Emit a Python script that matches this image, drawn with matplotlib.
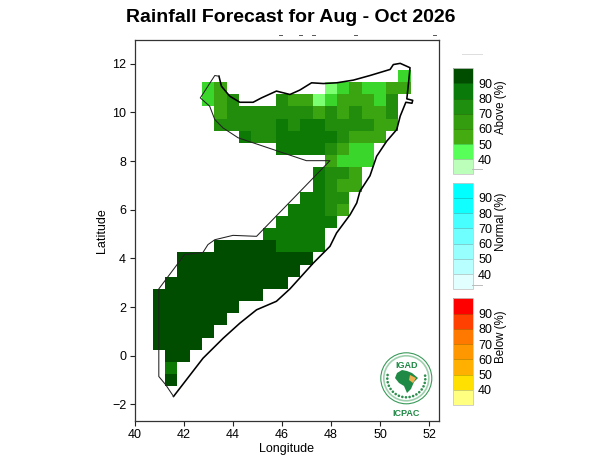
import numpy as np
import matplotlib
matplotlib.use("Agg")
import matplotlib.pyplot as plt
from matplotlib.colors import ListedColormap, BoundaryNorm
from matplotlib.cm import ScalarMappable
from matplotlib.patches import Circle, Polygon
from matplotlib.lines import Line2D

plt.rcParams['font.family'] = ['Liberation Sans', 'DejaVu Sans']

TITLE = "Rainfall Forecast for Aug - Oct 2026"
GRID_LON0 = 40.75
GRID_STEP = 0.5
# row latitude (centre): list of (first column, last column, probability class)
ROWS = {
    11.5: [(20, 20, 50)],
    11.0: [(4, 4, 50), (5, 5, 60), (14, 14, 45), (15, 15, 50), (16, 16, 60), (17, 18, 50), (19, 20, 60)],
    10.5: [(4, 4, 50), (5, 5, 60), (6, 6, 70), (10, 10, 70), (11, 12, 60), (13, 13, 45), (14, 14, 50),
           (15, 17, 60), (18, 18, 50), (19, 19, 70)],
    10.0: [(5, 5, 60), (6, 12, 70), (13, 13, 60), (14, 14, 70), (15, 15, 60), (16, 16, 70), (17, 18, 60), (19, 19, 70)],
    9.5: [(5, 9, 70), (10, 10, 80), (11, 11, 70), (12, 13, 80), (14, 17, 70), (18, 19, 60)],
    9.0: [(7, 7, 80), (8, 9, 70), (10, 14, 80), (15, 15, 70), (16, 18, 60)],
    8.5: [(10, 13, 80), (14, 14, 70), (15, 15, 60), (16, 17, 50)],
    8.0: [(14, 14, 60), (15, 17, 50)],
    7.5: [(13, 13, 80), (14, 15, 70), (16, 16, 60)],
    7.0: [(13, 13, 80), (14, 14, 70), (15, 16, 60)],
    6.5: [(12, 13, 80), (14, 15, 70)],
    6.0: [(11, 13, 80), (14, 14, 70), (15, 15, 60)],
    5.5: [(10, 14, 80)],
    5.0: [(9, 13, 80)],
    4.5: [(5, 9, 90), (10, 13, 80)],
    4.0: [(2, 12, 90)],
    3.5: [(2, 11, 90)],
    3.0: [(1, 10, 90)],
    2.5: [(0, 8, 90)],
    2.0: [(0, 6, 90)],
    1.5: [(0, 5, 90)],
    1.0: [(0, 4, 90)],
    0.5: [(0, 3, 90)],
    0.0: [(1, 2, 90)],
    -0.5: [(1, 1, 80)],
    -1.0: [(1, 1, 90)],
}
MAP_CLASSES = [45, 50, 60, 70, 80, 90]
MAP_COLORS = ['#7dff72', '#3ad62c', '#3aa510', '#228c0c', '#0e7a06', '#004d00']

COAST_LON = [43.44, 43.54, 43.88, 44.29, 44.83, 45.17, 45.78, 46.33, 46.73, 47.21, 47.69, 48.23, 48.91, 49.59,
             50.41, 50.54, 50.82, 51.22, 51.16, 51.09, 51.33, 51.30, 51.05, 50.82, 50.68, 50.27, 49.86, 49.59, 49.18,
             49.05, 48.78, 48.23, 47.96, 47.28, 46.33, 45.78, 44.97, 44.29, 43.61, 42.79, 42.11, 41.59]
COAST_LAT = [11.49, 11.08, 10.67, 10.42, 10.42, 10.60, 10.88, 10.74, 10.92, 11.22, 11.19, 11.22, 11.33, 11.52,
             11.77, 11.97, 12.02, 11.84, 11.22, 10.56, 10.50, 10.38, 10.42, 9.85, 9.30, 8.82, 8.20, 7.40, 6.76,
             6.28, 5.80, 5.05, 4.50, 3.81, 2.75, 2.24, 1.89, 1.34, 0.72, -0.10, -0.99, -1.67]
LAND_LON = [41.59, 41.27, 40.99, 40.99, 42.04, 42.79, 42.99, 43.27, 44.01, 44.97, 47.96, 47.00, 44.22, 43.60,
            43.27, 43.06, 42.68, 43.27, 43.44]
LAND_LAT = [-1.67, -1.19, -0.85, 2.75, 4.16, 4.25, 4.57, 4.77, 4.95, 4.91, 8.02, 8.02, 8.96, 9.37,
            9.71, 10.26, 10.60, 11.52, 11.49]

LON_TICKS = [40, 42, 44, 46, 48, 50, 52]
LAT_TICKS = [-2, 0, 2, 4, 6, 8, 10, 12]
CB_TICKS = [40, 50, 60, 70, 80, 90]
CB_BOUNDS = [30, 40, 50, 60, 70, 80, 90, 100]
ABOVE_COLORS = ['#bbffbb', '#58ff58', '#44ab10', '#339d0f', '#1f8f0f', '#0a7a0a', '#004d00']
NORMAL_COLORS = ['#e2ffff', '#b8ffff', '#98ffff', '#70ffff', '#48ffff', '#10ffff', '#00ffff']
BELOW_COLORS = ['#ffff80', '#ffe000', '#ffb000', '#ff9800', '#ff7800', '#ff4000', '#ff0000']
CB_SPECS = [("Above (%)", ABOVE_COLORS, 68.3, 174.3), ("Normal (%)", NORMAL_COLORS, 182.7, 289.3),
            ("Below (%)", BELOW_COLORS, 298.3, 405.0)]

W, H = 600, 468
fig = plt.figure(figsize=(W / 100, H / 100), dpi=100)

def px_axes(l, t, r, b, **kw):
    return fig.add_axes([l / W, (H - b) / H, (r - l) / W, (b - t) / H], **kw)

ax = px_axes(134.5, 39.5, 439, 421)
ax.set_xlim(40, 52.4)
ax.set_ylim(-2.68, 13.0)

lat_values = sorted(ROWS)
lat_edges = np.append(np.array(lat_values) - GRID_STEP / 2, lat_values[-1] + GRID_STEP / 2)
lon_edges = GRID_LON0 + GRID_STEP * np.arange(22)
Z = np.full((len(lat_values), 21), np.nan)
for i, lat in enumerate(lat_values):
    for first, last, cls in ROWS[lat]:
        Z[i, first:last + 1] = cls
map_bounds = [40, 47, 55, 65, 75, 85, 100]
ax.pcolormesh(lon_edges, lat_edges, np.ma.masked_invalid(Z),
              cmap=ListedColormap(MAP_COLORS), norm=BoundaryNorm(map_bounds, len(MAP_COLORS)))

ax.plot(COAST_LON, COAST_LAT, color='black', lw=1.15, solid_joinstyle='round')
ax.plot(LAND_LON, LAND_LAT, color='#222222', lw=0.75)
ax.set_xticks(LON_TICKS)
ax.set_yticks(LAT_TICKS)
ax.tick_params(labelsize=9, length=3.5, width=0.8, color='#222222', pad=2.5)
ax.set_xlabel("Longitude", fontsize=9, labelpad=1)
ax.set_ylabel("Latitude", fontsize=9, labelpad=3)
for s in ax.spines.values():
    s.set_color('#333333')
    s.set_linewidth(0.9)

fig.text(291 / W, 1 - 17.5 / H, TITLE, ha='center', va='center', fontsize=14, fontweight='bold')

for label, colors, top, bottom in CB_SPECS:
    cax = px_axes(452.5, top, 472.5, bottom)
    sm = ScalarMappable(norm=BoundaryNorm(CB_BOUNDS, len(colors)), cmap=ListedColormap(colors))
    cb = fig.colorbar(sm, cax=cax, ticks=CB_TICKS, spacing='uniform', drawedges=True)
    cb.dividers.set_color((0, 0, 0, 0.22))
    cb.dividers.set_linewidth(0.6)
    cb.outline.set_edgecolor('#c8c8c8')
    cb.outline.set_linewidth(0.6)
    cb.ax.tick_params(labelsize=9, length=0, pad=4)
    cb.ax.minorticks_off()
    cb.set_label(label, fontsize=8.3)
    cb.ax.yaxis.set_label_coords((495 - 452.5) / 20, 0.635)

# stray marks
fig.add_artist(Line2D([462 / W, 482 / W], [1 - 53.5 / H] * 2, color='#dddddd', lw=0.7))
fig.add_artist(Line2D([472 / W, 482 / W], [1 - 168.5 / H] * 2, color='#bbbbbb', lw=0.7))
fig.add_artist(Line2D([472 / W, 482 / W], [1 - 284.5 / H] * 2, color='#bbbbbb', lw=0.7))
for x0 in [279, 299, 312, 354, 433]:
    fig.add_artist(Line2D([x0 / W, (x0 + 3) / W], [1 - 34.5 / H] * 2, color='#555555', lw=0.7))

# logo
la = px_axes(377, 352, 436, 420)
la.set_xlim(377, 436)
la.set_ylim(420, 352)
la.axis('off')
cx, cy = 406.3, 378.3
la.add_patch(Circle((cx, cy), 25.5, fc='white', ec='#3a9a5a', lw=0.8))
la.add_patch(Circle((cx, cy), 22.5, fc='none', ec='#9fd0ae', lw=1.2))
for ang in np.deg2rad(np.arange(-190, 10, 11)):
    la.add_patch(Circle((cx + 19 * np.cos(ang), cy - 19 * np.sin(ang)), 1.3, fc='#2f8f4f', ec='none'))
la.add_patch(Polygon([(397, 373), (402, 370), (407, 371), (412, 373), (418, 378), (414, 382),
                      (411, 389), (407, 393), (404, 386), (399, 383), (395, 378)],
                     fc='#1f8a45', ec='none'))
la.add_patch(Polygon([(410, 375), (416, 378), (413, 383), (409, 380)], fc='#f0b050', ec='none'))
la.text(cx, 366, "IGAD", ha='center', va='center', fontsize=6.5, fontweight='bold', color='#1f8a45')
la.text(cx, 413, "ICPAC", ha='center', va='center', fontsize=6.5, fontweight='bold', color='#1f8a45')

fig.savefig("out.png", dpi=100)
